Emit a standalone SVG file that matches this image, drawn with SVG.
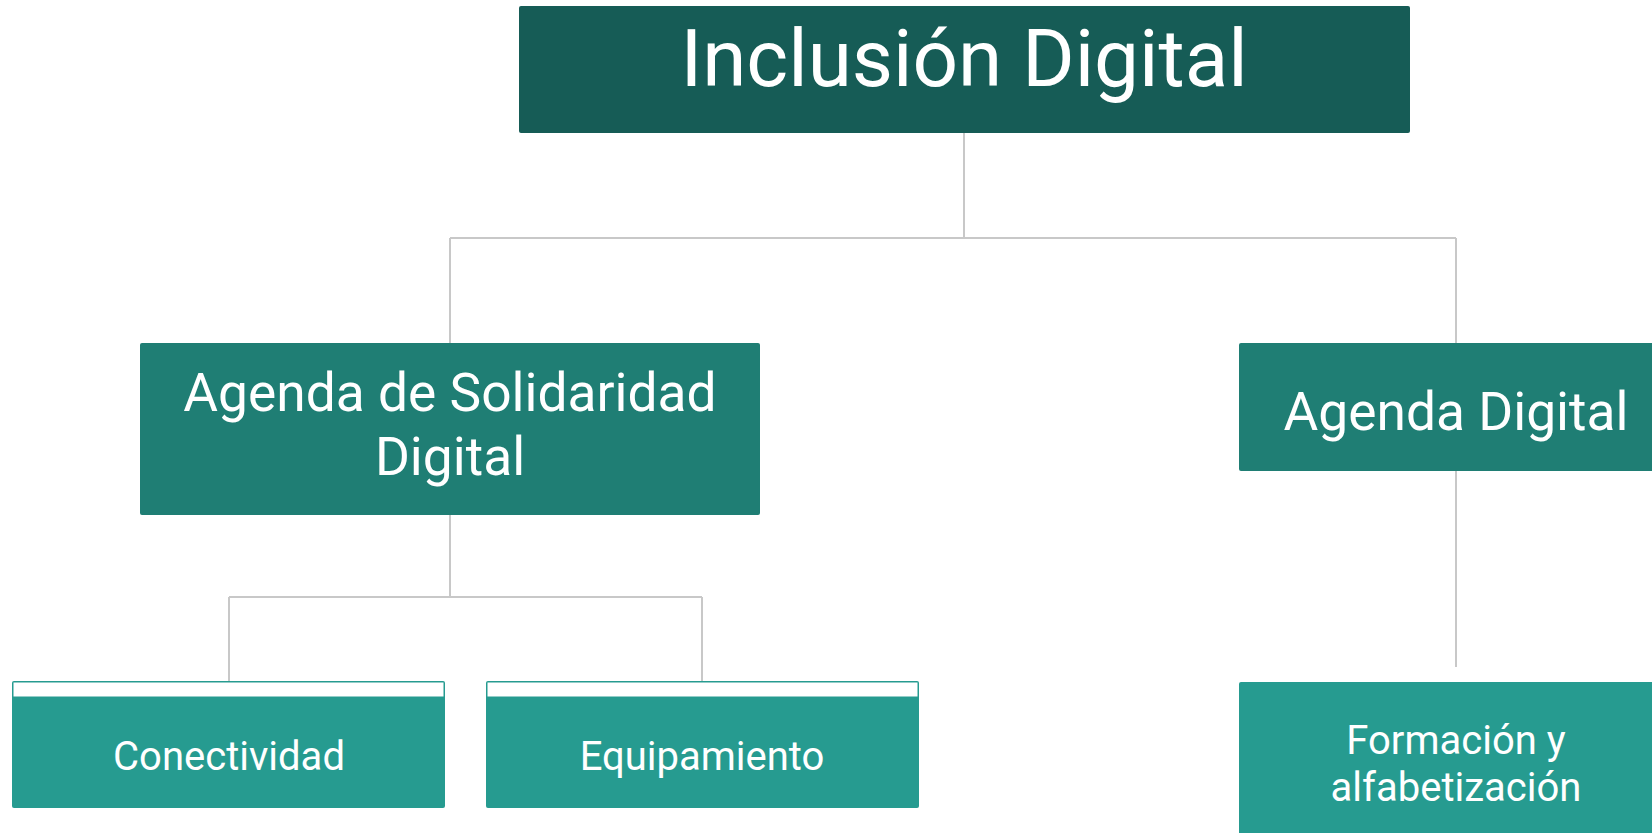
<svg xmlns="http://www.w3.org/2000/svg" width="1652" height="833" viewBox="0 0 1652 833">
<style>
.t{font-family:Roboto,"Liberation Sans",sans-serif;fill:#fff;text-anchor:middle}
.c{stroke:#c8c8c8;stroke-width:2;fill:none}
.l0{fill:#165c56}
.l1{fill:#1f7e74}
.l2{fill:#269b90}
</style>
<rect width="1652" height="833" fill="#fff"/>
<g id="connectors">
<path class="c" d="M964 133V238M450 238H1456M450 238V343M1456 238V343"/>
<path class="c" d="M450 515V597M229 597H702M229 597V681M702 597V681"/>
<path class="c" d="M1456 471V667"/>
</g>
<g id="n-inclusion">
<rect class="l0" x="519" y="6" width="891" height="127" rx="2"/>
<text class="t" x="964" y="86" font-size="80">Inclusión Digital</text>
</g>
<g id="n-solidaridad">
<rect class="l1" x="140" y="343" width="620" height="172" rx="2"/>
<text class="t" x="450" y="411" font-size="53.3">Agenda de Solidaridad</text>
<text class="t" x="450" y="475" font-size="53.3">Digital</text>
</g>
<g id="n-agenda-digital">
<rect class="l1" x="1239" y="343" width="440" height="128" rx="2"/>
<text class="t" x="1456" y="430" font-size="53.3">Agenda Digital</text>
</g>
<g id="n-conectividad">
<rect class="l2" x="12" y="681" width="433" height="127" rx="2"/>
<rect fill="#fff" x="13.5" y="682.5" width="430" height="14"/>
<text class="t" x="229" y="770" font-size="40">Conectividad</text>
</g>
<g id="n-equipamiento">
<rect class="l2" x="486" y="681" width="433" height="127" rx="2"/>
<rect fill="#fff" x="487.5" y="682.5" width="430" height="14"/>
<text class="t" x="702" y="770" font-size="40">Equipamiento</text>
</g>
<g id="n-formacion">
<rect class="l2" x="1239" y="682" width="440" height="170" rx="2"/>
<text class="t" x="1456" y="754" font-size="40">Formación y</text>
<text class="t" x="1456" y="801" font-size="40">alfabetización</text>
</g>
</svg>
